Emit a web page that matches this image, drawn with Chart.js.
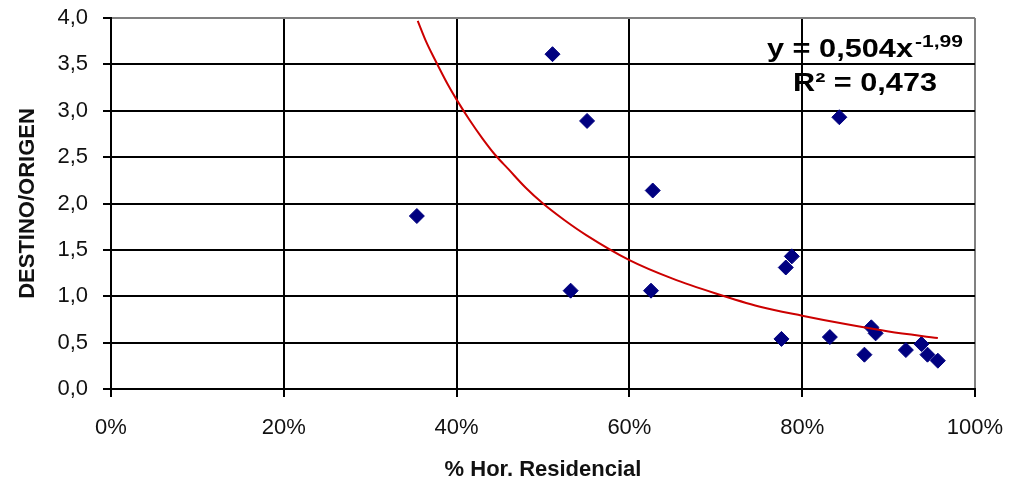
<!DOCTYPE html>
<html>
<head>
<meta charset="utf-8">
<script src="https://cdn.jsdelivr.net/npm/chart.js@4.4.1/dist/chart.umd.min.js"></script>
<style>
  html, body { margin: 0; padding: 0; background: #fff; }
  #wrap { width: 1010px; height: 483px; position: relative; }
</style>
</head>
<body>
<div id="wrap"><canvas id="c"></canvas></div>
<script>
// share of residential hours vs destination/origin ratio
const horResidencial = [0.354, 0.511, 0.551, 0.532, 0.627, 0.625, 0.843, 0.788, 0.781, 0.776, 0.832, 0.872, 0.880, 0.885, 0.920, 0.938, 0.945, 0.957];
const destinoOrigen = [1.865, 3.61, 2.89, 1.06, 2.14, 1.06, 2.93, 1.43, 1.31, 0.54, 0.56, 0.37, 0.665, 0.60, 0.42, 0.485, 0.37, 0.305];

// trend line
const trendX = [0.355, 0.365, 0.375, 0.39, 0.40, 0.415, 0.43, 0.445, 0.46, 0.48, 0.50, 0.525, 0.55, 0.60, 0.65, 0.70, 0.75, 0.80, 0.85, 0.90, 0.957];
const trendY = [3.97, 3.74, 3.55, 3.28, 3.12, 2.90, 2.70, 2.52, 2.37, 2.17, 2.00, 1.82, 1.66, 1.39, 1.19, 1.03, 0.89, 0.79, 0.70, 0.62, 0.55];

const eqText = ['y = 0,504x', '-1,99', 'R\u00b2 = 0,473'];

const FONT = '"Liberation Sans", Arial, sans-serif';

const pts = horResidencial.map((x, i) => ({ x: x, y: destinoOrigen[i] }));
const trend = trendX.map((x, i) => ({ x: x, y: trendY[i] }));

// draw a text piece squeezed/stretched to a given width (the excel label is wide)
function fitText(ctx, txt, x, y, w) {
  const m = ctx.measureText(txt).width;
  ctx.save();
  ctx.translate(x, y);
  ctx.scale(w / m, 1);
  ctx.fillText(txt, 0, 0);
  ctx.restore();
}

// equation label, drawn like Excel's trendline label
const eqPlugin = {
  id: 'eq',
  afterDraw(chart) {
    const ctx = chart.ctx;
    ctx.save();
    ctx.fillStyle = '#000';
    ctx.textBaseline = 'alphabetic';
    ctx.font = 'bold 26px ' + FONT;
    fitText(ctx, eqText[0], 767, 57, 146);
    ctx.font = 'bold 16px ' + FONT;
    fitText(ctx, eqText[1], 915, 47, 48);
    ctx.font = 'bold 26px ' + FONT;
    fitText(ctx, eqText[2], 793, 91, 144);
    ctx.restore();
  }
};

new Chart(document.getElementById('c'), {
  type: 'scatter',
  data: {
    datasets: [
      { label: 'Tendencia', data: trend, showLine: true, borderColor: '#cc0000', borderWidth: 2, pointRadius: 0, cubicInterpolationMode: 'monotone', order: 0 },
      { label: 'Datos', data: pts, pointStyle: 'rectRot', pointRadius: 7.5, backgroundColor: '#000080', borderColor: '#000080', borderWidth: 1, order: 1 }
    ]
  },
  options: {
    responsive: true,
    maintainAspectRatio: false,
    animation: false,
    layout: { padding: { top: 18, right: 35, left: 0, bottom: 0 } },
    plugins: { legend: { display: false }, tooltip: { enabled: false } },
    scales: {
      x: {
        min: 0, max: 1,
        grid: {
          color: c => c.tick && c.tick.value === 1 ? '#808080' : '#000',
          tickColor: '#000', lineWidth: 2, tickLength: 8
        },
        border: { color: '#000', width: 2 },
        ticks: { stepSize: 0.2, padding: 18, color: '#111', font: { family: FONT, size: 22 }, callback: v => Math.round(v * 100) + '%' },
        title: { display: true, text: '% Hor. Residencial', color: '#111', font: { family: FONT, size: 22, weight: 'bold' }, padding: { top: 4, bottom: 0 } },
        afterFit: s => { s.height = 94; s.paddingLeft = 0; s.paddingRight = 0; }
      },
      y: {
        min: 0, max: 4,
        grid: {
          color: c => c.tick && c.tick.value === 4 ? '#808080' : '#000',
          tickColor: '#000', lineWidth: 2, tickLength: 8
        },
        border: { color: '#000', width: 2 },
        ticks: { stepSize: 0.5, padding: 15, color: '#111', font: { family: FONT, size: 22 }, callback: v => v.toFixed(1).replace('.', ',') },
        title: { display: true, text: 'DESTINO/ORIGEN', color: '#111', font: { family: FONT, size: 22, weight: 'bold' }, padding: { top: 15, bottom: 0 } },
        afterFit: s => { s.width = 111; s.paddingTop = 0; s.paddingBottom = 0; }
      }
    }
  },
  plugins: [eqPlugin]
});
</script>
</body>
</html>
